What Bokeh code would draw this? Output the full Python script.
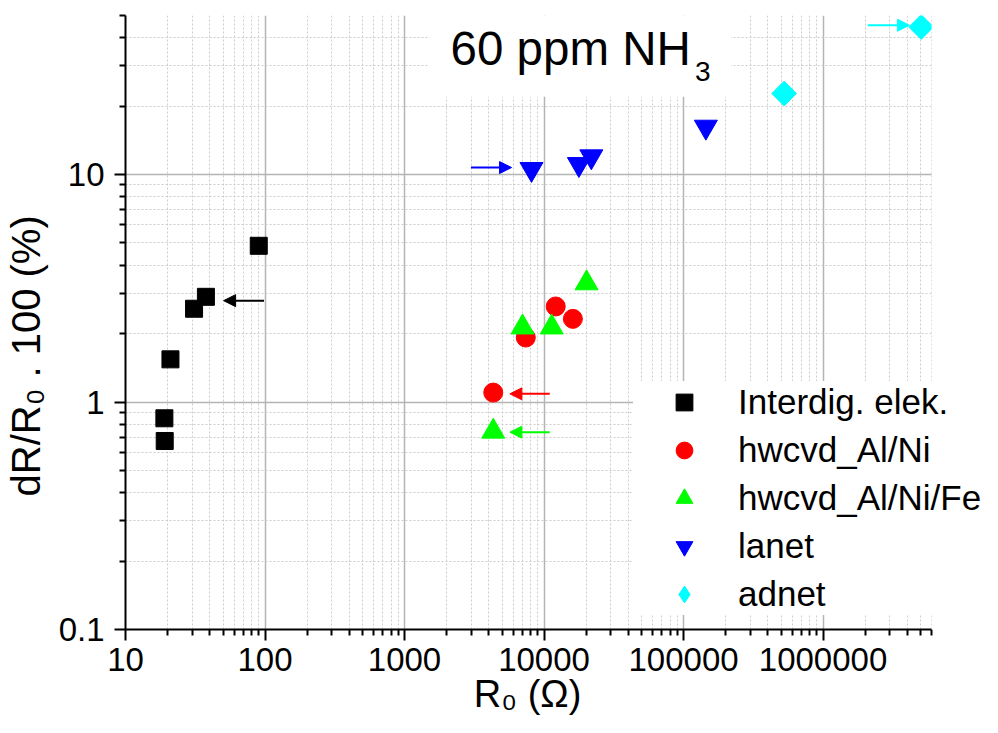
import math
from bokeh.plotting import figure
from bokeh.models import (FixedTicker, Label, BoxAnnotation, Arrow, NormalHead,
                          Legend, LegendItem)
from bokeh.embed import file_html
from bokeh.resources import INLINE

# ---------------- data ----------------
interdig_x = [90.2, 37.7, 31.0, 21.0, 19.0, 19.1]
interdig_y = [4.86, 2.90, 2.57, 1.54, 0.848, 0.674]

alni_x = [4325, 7400, 12130, 16100]
alni_y = [1.10, 1.92, 2.63, 2.32]

alnife_x = [4325, 7015, 11350, 20180]
alnife_y = [0.742, 2.13, 2.13, 3.33]

lanet_x = [8130, 17780, 21830, 144500]
lanet_y = [10.56, 11.1, 12.0, 16.2]

adnet_x = [526000, 5.05e6]
adnet_y = [22.7, 44.5]

series_names = ["Interdig. elek.", "hwcvd_Al/Ni", "hwcvd_Al/Ni/Fe", "lanet", "adnet"]

# arrows pointing at selected points
arrow_x_start = [98.4, 10990, 10990, 2993, 2.09e6]
arrow_x_end = [50.5, 5690, 5690, 5850, 4.16e6]
arrow_y = [2.79, 1.086, 0.737, 10.73, 45.3]
arrow_colors = ["black", "#ff0000", "#00ff00", "#0000ff", "#00ffff"]

# axis ticks
x_major = [10, 100, 1000, 10000, 100000, 1000000]
x_labels = ["10", "100", "1000", "10000", "100000", "1000000"]
y_major = [0.1, 1, 10]
y_labels = ["0.1", "1", "10"]
x_axis_end = 6e6          # end of the drawn x axis
y_axis_range = (0.1, 50)

FONT = "Liberation Sans"
NB = "\u00a0"

x_minor = [m * d for d in x_major for m in range(2, 10) if m * d <= x_axis_end]
y_minor = [m * d for d in y_major for m in range(2, 10) if m * d <= y_axis_range[1]]

# frame reaches the right edge of the canvas so the legend is not clipped;
# the axis itself stops at x_axis_end (808 px of 859 px frame width)
x_view_end = 10 ** (1 + math.log10(x_axis_end / 10) * 859 / 808)

p = figure(width=982, height=717, x_axis_type="log", y_axis_type="log",
           x_range=(10, x_view_end), y_range=y_axis_range,
           output_backend="svg", toolbar_location=None,
           min_border_left=123, min_border_right=0,
           min_border_top=15, min_border_bottom=88)
p.outline_line_color = None
p.background_fill_color = "white"
p.border_fill_color = "white"

xt = FixedTicker(ticks=x_major, minor_ticks=x_minor)
yt = FixedTicker(ticks=y_major, minor_ticks=y_minor)
p.xaxis.ticker = xt
p.yaxis.ticker = yt
p.xgrid.ticker = xt
p.ygrid.ticker = yt
p.xaxis.bounds = (10, x_axis_end)
p.xaxis.major_label_overrides = {float(v): s for v, s in zip(x_major, x_labels)}
p.yaxis.major_label_overrides = {float(v): s for v, s in zip(y_major, y_labels)}

for ax in (p.xaxis, p.yaxis):
    ax.axis_line_width = 2
    ax.axis_line_color = "black"
    ax.major_tick_line_width = 2
    ax.minor_tick_line_width = 2
    ax.major_tick_line_color = "black"
    ax.minor_tick_line_color = "black"
    ax.major_tick_in = 0
    ax.major_tick_out = 11
    ax.minor_tick_in = 0
    ax.minor_tick_out = 6
    ax.major_label_text_font = FONT
    ax.major_label_text_font_size = "33px"
    ax.major_label_text_color = "black"
    ax.axis_label_text_font = FONT
    ax.axis_label_text_font_style = "normal"
    ax.axis_label_text_color = "black"
p.xaxis.major_label_standoff = 7
p.yaxis.major_label_standoff = 10

# trailing no-break spaces shift the centred labels to where they sit in the original
p.xaxis.axis_label = "R\u2080 (\u03a9)" + NB * 5
p.xaxis.axis_label_text_font_size = "38px"
p.xaxis.axis_label_standoff = -1
p.yaxis.axis_label = "dR/R\u2080 . 100 (%)" + NB * 6
p.yaxis.axis_label_text_font_size = "40px"
p.yaxis.axis_label_standoff = 8

for g in (p.xgrid, p.ygrid):
    g.grid_line_color = "#b4b4b4"
    g.grid_line_width = 1.5
    g.minor_grid_line_color = "#cccccc"
    g.minor_grid_line_width = 1
    g.minor_grid_line_dash = "2 2"

r1 = p.scatter(interdig_x, interdig_y, marker="square", size=17, color="black")
r2 = p.scatter(alni_x, alni_y, marker="circle", size=19, color="#ff0000")
r3 = p.scatter(alnife_x, alnife_y, marker="triangle", size=23, color="#00ff00")
r4 = p.scatter(lanet_x, lanet_y, marker="inverted_triangle", size=23, color="#0000ff")
# diamond key glyph for the legend (lies fully inside the rotated squares drawn on top)
r5_key = p.scatter(adnet_x, adnet_y, marker="diamond", size=17.5, color="#00ffff")
r5 = p.scatter(adnet_x, adnet_y, marker="square", size=17.5, angle=math.pi / 4,
               color="#00ffff")

# blank the area right of the x axis end (grid lines / clipped marker)
p.add_layout(BoxAnnotation(left=x_axis_end, fill_color="white", fill_alpha=1,
                           line_color=None))
# white box behind the title
p.add_layout(BoxAnnotation(left=1512, right=218800, bottom=21.95,
                           fill_color="white", fill_alpha=1, line_color=None))

for xs, xe, y, c in zip(arrow_x_start, arrow_x_end, arrow_y, arrow_colors):
    p.add_layout(Arrow(x_start=xs, y_start=y, x_end=xe, y_end=y,
                       line_color=c, line_width=2,
                       end=NormalHead(size=12, fill_color=c, line_color=c, line_width=1)))

legend = Legend(items=[LegendItem(label=n, renderers=[r])
                       for n, r in zip(series_names, [r1, r2, r3, r4, r5_key])],
                location=(508, 14), padding=10, spacing=6, margin=0,
                glyph_width=102, glyph_height=42, label_height=42,
                label_standoff=3, label_text_font=FONT,
                label_text_font_size="35px", label_text_color="black",
                background_fill_color="white", background_fill_alpha=1,
                border_line_color=None)
p.add_layout(legend)

# title "60 ppm NH3"
p.add_layout(Label(x=2138, y=35.8, text="60 ppm NH", text_font=FONT,
                   text_font_size="47.5px", text_align="left",
                   text_baseline="alphabetic", text_color="black"))
p.add_layout(Label(x=120900, y=28.3, text="3", text_font=FONT,
                   text_font_size="28px", text_align="left",
                   text_baseline="alphabetic", text_color="black"))

open("out.html", "w").write(file_html(p, INLINE))
